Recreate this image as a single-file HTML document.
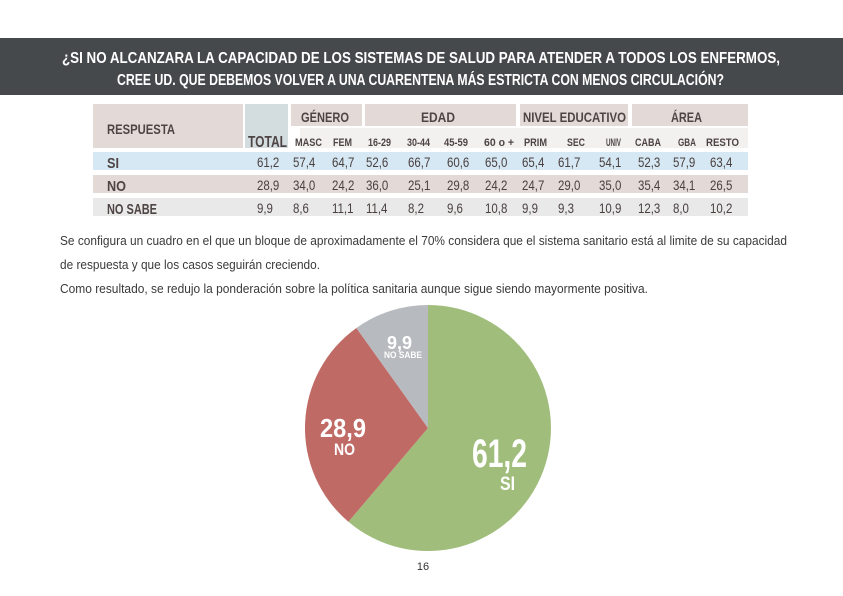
<!DOCTYPE html>
<html><head><meta charset="utf-8"><style>
html,body{margin:0;padding:0;background:#fff}
svg{display:block}
text{font-family:"Liberation Sans",sans-serif}
.b{font-weight:bold}
</style></head><body>
<svg width="843" height="596" viewBox="0 0 843 596" xmlns="http://www.w3.org/2000/svg">
<rect x="0" y="38" width="843" height="57" fill="#46494c"/>
<text x="62" y="63" class="b" font-size="15.5" fill="#fff" textLength="718" lengthAdjust="spacingAndGlyphs">¿SI NO ALCANZARA LA CAPACIDAD DE LOS SISTEMAS DE SALUD PARA ATENDER A TODOS LOS ENFERMOS,</text>
<text x="117" y="85" class="b" font-size="15.5" fill="#fff" textLength="607" lengthAdjust="spacingAndGlyphs">CREE UD. QUE DEBEMOS VOLVER A UNA CUARENTENA MÁS ESTRICTA CON MENOS CIRCULACIÓN?</text>

<rect x="93" y="104" width="150" height="44" fill="#e3dad8"/>
<rect x="245" y="104" width="43" height="44" fill="#d3dcdf"/>
<rect x="291" y="104" width="71" height="22" fill="#e3dad8"/>
<rect x="365" y="104" width="151" height="22" fill="#e3dad8"/>
<rect x="520" y="104" width="108" height="22" fill="#e3dad8"/>
<rect x="632" y="104" width="116" height="22" fill="#e3dad8"/>
<rect x="300" y="128" width="448" height="20" fill="#f2f1f0"/>
<rect x="93" y="152" width="655" height="18" fill="#d6e8f3"/>
<rect x="93" y="175" width="655" height="18" fill="#e3dad8"/>
<rect x="93" y="198" width="655" height="18" fill="#e9e9e9"/>

<g class="b" fill="#4e4444">
<text x="107" y="134" font-size="14" textLength="68" lengthAdjust="spacingAndGlyphs">RESPUESTA</text>
<text x="248" y="147" font-size="16" textLength="39" lengthAdjust="spacingAndGlyphs">TOTAL</text>
<text x="301" y="122" font-size="14" textLength="48" lengthAdjust="spacingAndGlyphs">GÉNERO</text>
<text x="421" y="122" font-size="14" textLength="34" lengthAdjust="spacingAndGlyphs">EDAD</text>
<text x="523" y="122" font-size="14" textLength="103" lengthAdjust="spacingAndGlyphs">NIVEL EDUCATIVO</text>
<text x="671" y="122" font-size="14" textLength="31" lengthAdjust="spacingAndGlyphs">ÁREA</text>
</g>
<g class="b" fill="#4e4444" font-size="11">
<text x="295" y="146" textLength="27" lengthAdjust="spacingAndGlyphs">MASC</text>
<text x="333" y="146" textLength="19" lengthAdjust="spacingAndGlyphs">FEM</text>
<text x="368" y="146" textLength="23" lengthAdjust="spacingAndGlyphs">16-29</text>
<text x="407" y="146" textLength="23" lengthAdjust="spacingAndGlyphs">30-44</text>
<text x="444" y="146" textLength="24" lengthAdjust="spacingAndGlyphs">45-59</text>
<text x="484" y="146" textLength="30" lengthAdjust="spacingAndGlyphs">60 o +</text>
<text x="524" y="146" textLength="23" lengthAdjust="spacingAndGlyphs">PRIM</text>
<text x="567" y="146" textLength="18" lengthAdjust="spacingAndGlyphs">SEC</text>
<text x="606" y="146" textLength="15" lengthAdjust="spacingAndGlyphs">UNIV</text>
<text x="635" y="146" textLength="26" lengthAdjust="spacingAndGlyphs">CABA</text>
<text x="678" y="146" textLength="18" lengthAdjust="spacingAndGlyphs">GBA</text>
<text x="706" y="146" textLength="33" lengthAdjust="spacingAndGlyphs">RESTO</text>
</g>
<g class="b" fill="#4e4444" font-size="15">
<text x="107" y="168" textLength="12" lengthAdjust="spacingAndGlyphs">SI</text>
<text x="107" y="191" textLength="19" lengthAdjust="spacingAndGlyphs">NO</text>
<text x="107" y="214" textLength="50" lengthAdjust="spacingAndGlyphs">NO SABE</text>
</g>
<g fill="#4a4040" font-size="14" transform="scale(0.82,1)">
<g transform="translate(0,167)">
<text x="313.4">61,2</text><text x="357.3">57,4</text><text x="404.9">64,7</text><text x="446.3">52,6</text><text x="497.6">66,7</text><text x="545.1">60,6</text><text x="591.5">65,0</text><text x="636.6">65,4</text><text x="680.5">61,7</text><text x="730.5">54,1</text><text x="778">52,3</text><text x="820.7">57,9</text><text x="865.9">63,4</text>
</g>
<g transform="translate(0,190)">
<text x="313.4">28,9</text><text x="357.3">34,0</text><text x="404.9">24,2</text><text x="446.3">36,0</text><text x="497.6">25,1</text><text x="545.1">29,8</text><text x="591.5">24,2</text><text x="636.6">24,7</text><text x="680.5">29,0</text><text x="730.5">35,0</text><text x="778">35,4</text><text x="820.7">34,1</text><text x="865.9">26,5</text>
</g>
<g transform="translate(0,213)">
<text x="313.4">9,9</text><text x="357.3">8,6</text><text x="404.9">11,1</text><text x="446.3">11,4</text><text x="497.6">8,2</text><text x="545.1">9,6</text><text x="591.5">10,8</text><text x="636.6">9,9</text><text x="680.5">9,3</text><text x="730.5">10,9</text><text x="778">12,3</text><text x="820.7">8,0</text><text x="865.9">10,2</text>
</g>
</g>

<g fill="#3a3a3a" font-size="12.5">
<text x="60" y="245" textLength="727" lengthAdjust="spacingAndGlyphs">Se configura un cuadro en el que un bloque de aproximadamente el 70% considera que el sistema sanitario está al limite de su capacidad</text>
<text x="60" y="269" textLength="260" lengthAdjust="spacingAndGlyphs">de respuesta y que los casos seguirán creciendo.</text>
<text x="60" y="293" textLength="588" lengthAdjust="spacingAndGlyphs">Como resultado, se redujo la ponderación sobre la política sanitaria aunque sigue siendo mayormente positiva.</text>
</g>

<path d="M428,428 L428,305 A123,123 0 1 1 348.4,521.8 Z" fill="#a0bd7c"/>
<path d="M428,428 L348.4,521.8 A123,123 0 0 1 356.4,328 Z" fill="#c06a66"/>
<path d="M428,428 L356.4,328 A123,123 0 0 1 428,305 Z" fill="#b7bbc0"/>

<g class="b" fill="#fff">
<text x="472" y="467" font-size="40" textLength="55" lengthAdjust="spacingAndGlyphs">61,2</text>
<text x="500" y="490" font-size="19" textLength="15" lengthAdjust="spacingAndGlyphs">SI</text>
<text x="320" y="437" font-size="26" textLength="46" lengthAdjust="spacingAndGlyphs">28,9</text>
<text x="334" y="455" font-size="17" textLength="21" lengthAdjust="spacingAndGlyphs">NO</text>
<text x="387" y="349" font-size="18" textLength="25" lengthAdjust="spacingAndGlyphs">9,9</text>
<text x="384" y="358" font-size="9" textLength="38" lengthAdjust="spacingAndGlyphs">NO SABE</text>
</g>
<text x="423" y="570" font-size="11" fill="#333" text-anchor="middle">16</text>
</svg>
</body></html>
